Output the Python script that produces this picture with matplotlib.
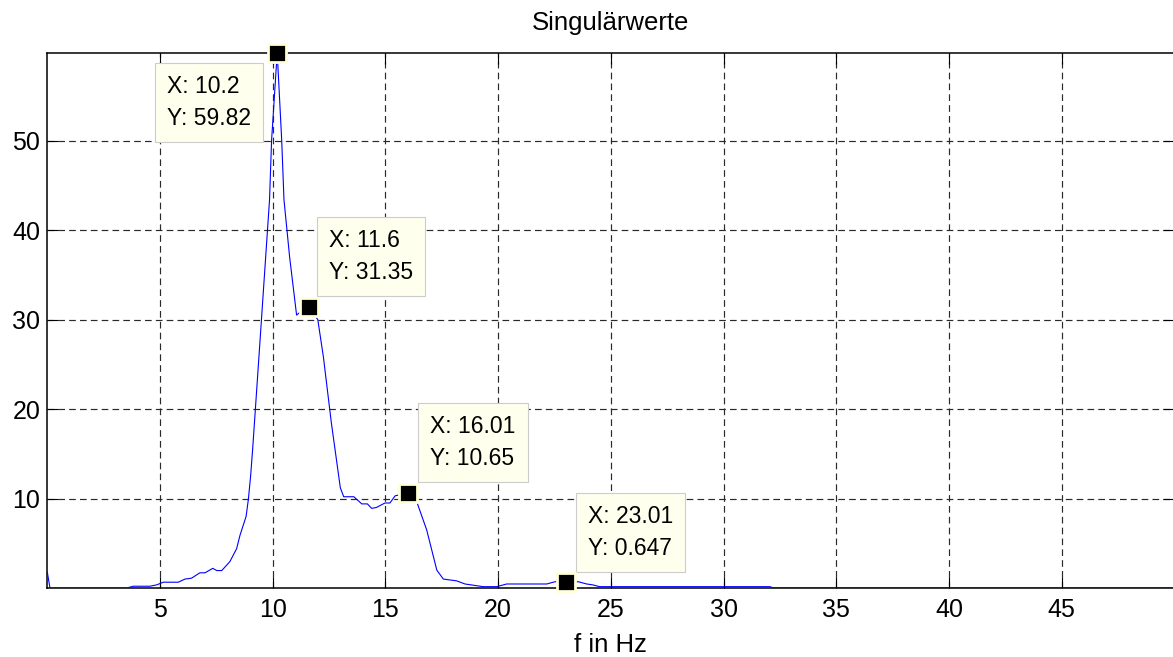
import numpy as np
import matplotlib
matplotlib.use('Agg')
import matplotlib.pyplot as plt

plt.rcParams['font.family'] = ['Liberation Sans', 'DejaVu Sans']
plt.rcParams['lines.scale_dashes'] = False

# Singular values
f_hz = [0.0, 0.12, 3.52, 3.82, 4.56, 4.85, 5.15, 5.81, 6.11, 6.4,
        6.77, 7.0, 7.34, 7.52, 7.74, 8.1, 8.4, 8.55, 8.82, 8.92,
        9.02, 9.11, 9.41, 9.86, 9.95, 10.2, 10.4, 10.5, 10.75, 11.06,
        11.3, 11.6, 12.0, 12.25, 12.6, 13.0, 13.15, 13.6, 13.95, 14.2,
        14.39, 14.6, 14.98, 15.2, 15.43, 16.01, 16.36, 16.83, 17.28, 17.57,
        18.16, 18.53, 19.34, 19.94, 20.38, 22.16, 22.52, 23.01, 23.56, 23.93,
        24.2, 24.5, 32.06, 32.2, 50.0]
sv = [1.8, 0.0, 0.0, 0.2, 0.2, 0.35, 0.65, 0.65, 1.0, 1.1,
      1.7, 1.7, 2.2, 1.95, 1.95, 2.95, 4.4, 5.9, 8.0, 9.9,
      12.5, 15.5, 26.6, 43.4, 50.0, 59.82, 50.0, 43.4, 37.0, 30.5,
      31.0, 31.35, 30.0, 25.8, 18.5, 11.2, 10.2, 10.2, 9.4, 9.4,
      8.9, 9.0, 9.5, 9.5, 10.3, 10.65, 9.85, 6.5, 2.0, 1.0,
      0.8, 0.45, 0.15, 0.15, 0.45, 0.45, 0.7, 0.647, 0.7, 0.45,
      0.35, 0.15, 0.15, 0.02, 0.02]

# data tips
tip_x = [10.2, 11.6, 16.01, 23.01]
tip_y = [59.82, 31.35, 10.65, 0.647]
tip_xlab = ['10.2', '11.6', '16.01', '23.01']
tip_ylab = ['59.82', '31.35', '10.65', '0.647']

xticks = [5, 10, 15, 20, 25, 30, 35, 40, 45]
yticks = [10, 20, 30, 40, 50]

fig = plt.figure(figsize=(11.73, 6.57), dpi=100)
ax = fig.add_axes([0.0403, 0.105, 0.9609, 0.8148])

ax.plot(f_hz, sv, color='#0000ff', lw=0.8, zorder=3)
ax.set_xlim(0, 50)
ax.set_ylim(0, 59.82)
ax.set_xticks(xticks)
ax.set_yticks(yticks)
ax.grid(True, color='#2a2a2a', linestyle=(0, (4.8, 3.0)), linewidth=0.85)
ax.tick_params(direction='in', length=8, width=0.8, labelsize=18, pad=7,
               top=True, right=True)
ax.tick_params(axis='y', pad=5)
for s in ax.spines.values():
    s.set_linewidth(1.1)

ax.set_title('Singulärwerte', fontsize=18.5, pad=16)
ax.set_xlabel('f in Hz', fontsize=18.5, labelpad=8)

# offsets (pixels) of the box relative to the marker, and anchor
tip_layout = [((-14, -10), 'right', 'top'),
              ((8, 11), 'left', 'bottom'),
              ((10, 11), 'left', 'bottom'),
              ((10, 10), 'left', 'bottom')]
fs_tip = 16.5
pad_px = 12
pad_frac = pad_px / (fs_tip * 100 / 72)
for xv, yv, xl, yl, (off, ha, va) in zip(tip_x, tip_y, tip_xlab, tip_ylab, tip_layout):
    ax.plot(xv, yv, 's', ms=12.3, mfc='black', mec='#ffffd8', mew=2.0,
            zorder=6, clip_on=False)
    sx = 1 if off[0] > 0 else -1
    sy = 1 if off[1] > 0 else -1
    ax.annotate(f'X: {xl}\nY: {yl}', xy=(xv, yv), xycoords='data',
                xytext=(off[0] + sx * pad_px, off[1] + sy * pad_px),
                textcoords='offset pixels', ha=ha, va=va, fontsize=fs_tip,
                multialignment='left', linespacing=1.5, zorder=5,
                bbox=dict(boxstyle=f'square,pad={pad_frac:.3f}', fc='#ffffee',
                          ec='#cccccc', lw=0.8))

fig.savefig('out.png', dpi=100)
